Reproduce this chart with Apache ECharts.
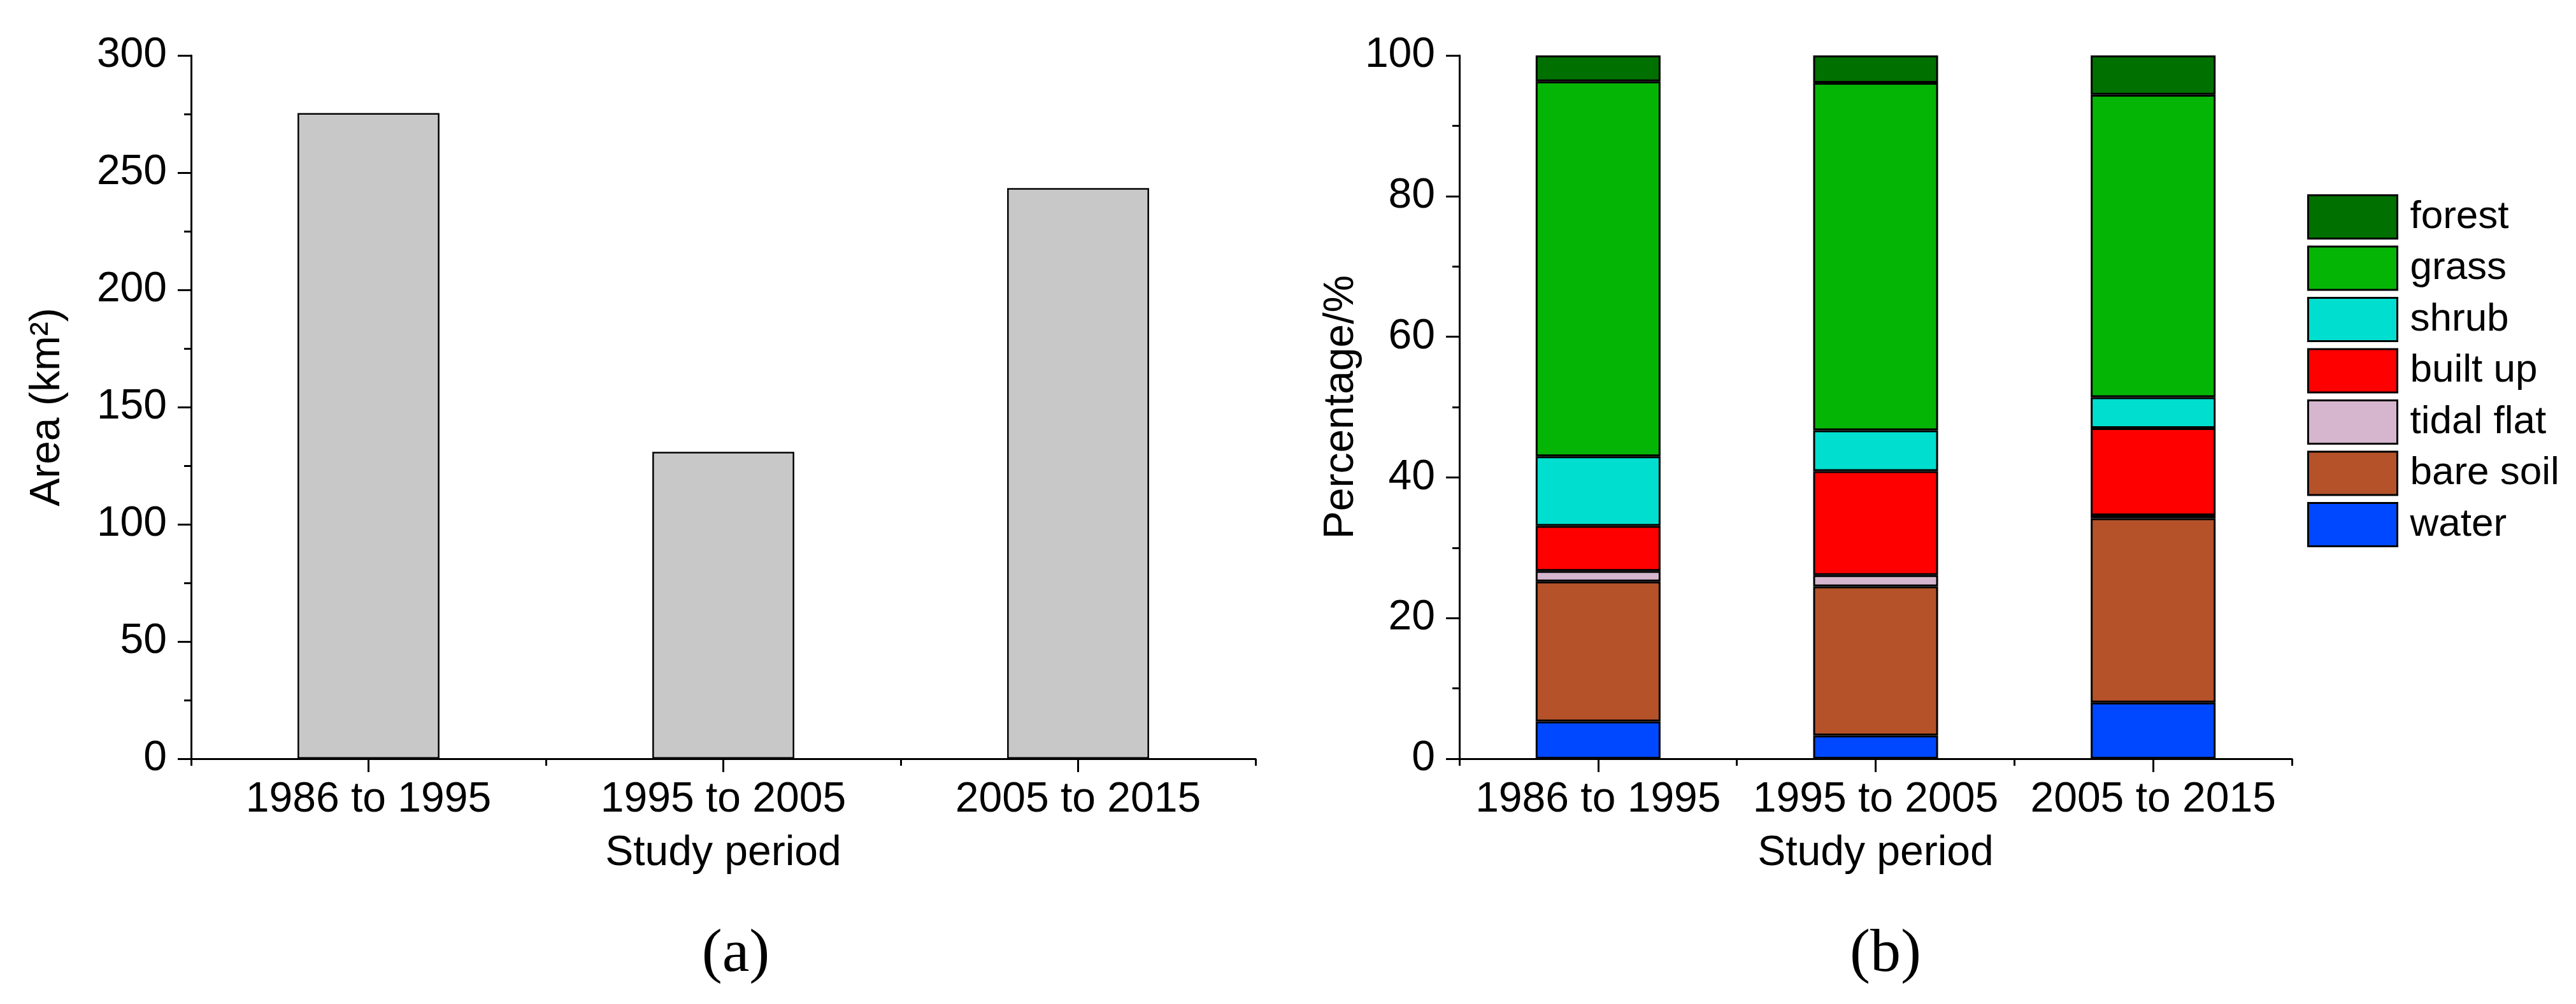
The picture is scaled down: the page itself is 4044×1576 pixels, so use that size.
<!DOCTYPE html>
<html>
<head>
<meta charset="utf-8">
<script src="https://cdn.jsdelivr.net/npm/echarts@6/dist/echarts.min.js"></script>
<style>
html,body{margin:0;padding:0;background:#fff;}
#chart{width:4044px;height:1576px;}
</style>
</head>
<body>
<div id="chart"></div>
<script>
// ---------- data ----------
const periods = ['1986 to 1995', '1995 to 2005', '2005 to 2015'];
const changedArea = [275.4, 130.9, 243.4];          // km2, panel (a)
const water      = [5.3, 3.3, 8.0];                 // %, panel (b)
const bareSoil   = [19.9, 21.2, 26.2];
const tidalFlat  = [1.5, 1.6, 0.4];
const builtUp    = [6.4, 14.8, 12.4];
const shrub      = [9.9, 5.8, 4.4];
const grass      = [53.3, 49.4, 43.0];
const forest     = [3.7, 3.9, 5.6];
const legendOrder = ['forest', 'grass', 'shrub', 'built up', 'tidal flat', 'bare soil', 'water'];

// ---------- styles ----------
const FONT = 'Liberation Sans';
const BLACK = '#000';
const colors = {
  'water': '#0048ff',
  'bare soil': '#b5522a',
  'tidal flat': '#d6b6ce',
  'built up': '#ff0000',
  'shrub': '#00dfcf',
  'grass': '#05b505',
  'forest': '#007000'
};

function catAxisMajor(grid) {
  return {
    type: 'category', gridIndex: grid, data: periods, position: 'bottom',
    axisLine: {show: true, lineStyle: {color: BLACK, width: 3}},
    axisTick: {show: true, alignWithLabel: true, length: 21, lineStyle: {color: BLACK, width: 3}},
    axisLabel: {show: true, interval: 0, hideOverlap: false, color: BLACK, fontFamily: FONT, fontSize: 66, margin: 32},
    splitLine: {show: false},
    name: 'Study period', nameLocation: 'middle', nameGap: 116,
    nameTextStyle: {color: BLACK, fontFamily: FONT, fontSize: 66}
  };
}
function catAxisMinor(grid) {
  return {
    type: 'category', gridIndex: grid, data: periods, position: 'bottom',
    axisLine: {show: false},
    axisTick: {show: true, interval: 0, alignWithLabel: false, length: 11, lineStyle: {color: BLACK, width: 3}},
    axisLabel: {show: false, interval: 0},
    splitLine: {show: false}
  };
}
function valAxis(grid, max, interval, name, nameGap) {
  return {
    type: 'value', gridIndex: grid, min: 0, max: max, interval: interval,
    axisLine: {show: true, lineStyle: {color: BLACK, width: 3}},
    axisTick: {show: true, length: 21, lineStyle: {color: BLACK, width: 3}},
    minorTick: {show: true, splitNumber: 2, length: 11, lineStyle: {color: BLACK, width: 3}},
    axisLabel: {color: BLACK, fontFamily: FONT, fontSize: 66, margin: 38},
    splitLine: {show: false}, minorSplitLine: {show: false},
    name: name, nameLocation: 'middle', nameGap: nameGap,
    nameTextStyle: {color: BLACK, fontFamily: FONT, fontSize: 66}
  };
}

const stackData = [
  ['water', water], ['bare soil', bareSoil], ['tidal flat', tidalFlat],
  ['built up', builtUp], ['shrub', shrub], ['grass', grass], ['forest', forest]
];

const series = [{
  type: 'bar', name: 'area', xAxisIndex: 0, yAxisIndex: 0,
  data: changedArea, barWidth: '40%',
  itemStyle: {color: '#c8c8c8', borderColor: BLACK, borderWidth: 2.5},
  emphasis: {disabled: true}
}];
stackData.forEach(([name, vals]) => {
  series.push({
    type: 'bar', name: name, stack: 'lc', xAxisIndex: 2, yAxisIndex: 1,
    data: vals, barWidth: '45%',
    itemStyle: {color: colors[name], borderColor: BLACK, borderWidth: 3},
    emphasis: {disabled: true}
  });
});

const chart = echarts.init(document.getElementById('chart'), null, {renderer: 'canvas'});
chart.setOption({
  animation: false,
  backgroundColor: '#fff',
  textStyle: {fontFamily: FONT},
  grid: [
    {left: 300, top: 87, width: 1671, height: 1104},
    {left: 2291, top: 87, width: 1307, height: 1104}
  ],
  xAxis: [catAxisMajor(0), catAxisMinor(0), catAxisMajor(1), catAxisMinor(1)],
  yAxis: [
    valAxis(0, 300, 50, 'Area (km²)', 192),
    valAxis(1, 100, 20, 'Percentage/%', 152)
  ],
  legend: {
    data: legendOrder, orient: 'vertical', left: 3617, top: 300,
    itemWidth: 140, itemHeight: 68, itemGap: 9.5, icon: 'rect',
    selectedMode: false,
    itemStyle: {borderColor: BLACK, borderWidth: 3},
    textStyle: {color: BLACK, fontFamily: FONT, fontSize: 62, padding: [0, 0, 0, 15]}
  },
  title: [
    {text: '(a)', left: 1150, top: 1446, textAlign: 'center',
     textStyle: {fontFamily: 'Liberation Serif', fontSize: 96, fontWeight: 'normal', color: BLACK}},
    {text: '(b)', left: 2955, top: 1446, textAlign: 'center',
     textStyle: {fontFamily: 'Liberation Serif', fontSize: 96, fontWeight: 'normal', color: BLACK}}
  ],
  series: series
});
</script>
</body>
</html>
